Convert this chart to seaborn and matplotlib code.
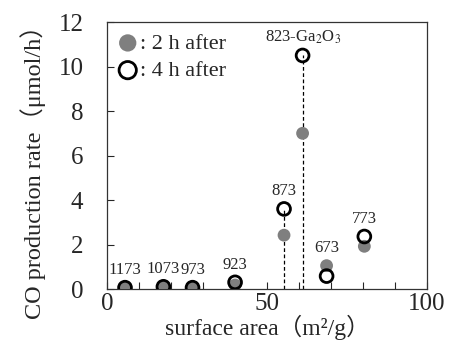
import matplotlib
matplotlib.use("Agg")
import matplotlib.pyplot as plt
import seaborn as sns
import pandas as pd
from matplotlib.ticker import MultipleLocator

# data
labels = ["1173", "1073", "973", "923", "873", "823-Ga$_2$O$_3$", "673", "773"]
surface_area = [5.6, 17.6, 26.7, 40.0, 55.3, 61.1, 68.6, 80.4]
rate_2h = [0.05, 0.08, 0.05, 0.18, 2.42, 7.0, 1.05, 1.92]
rate_4h = [0.06, 0.10, 0.06, 0.30, 3.60, 10.5, 0.58, 2.36]
dashed_idx = [4, 5]

sns.set_theme(style="ticks")
plt.rcParams['font.family'] = ['Liberation Serif', 'Noto Sans CJK JP', 'DejaVu Sans']
plt.rcParams['mathtext.fontset'] = 'stix'

df = pd.DataFrame({"area": surface_area, "r2": rate_2h, "r4": rate_4h, "label": labels})

fig = plt.figure(figsize=(4.5, 3.4), dpi=100)
ax = fig.add_axes([0.238, 0.150, 0.711, 0.785])

for i in dashed_idx:
    ax.vlines(df.area[i], 0, df.r4[i], colors='black', linestyles=(0, (3, 2)), linewidth=0.9, zorder=1)

sns.scatterplot(data=df, x="area", y="r2", ax=ax, s=85, color="#7f7f7f", edgecolor='none',
                label=": 2 h after", zorder=3)
sns.scatterplot(data=df, x="area", y="r4", ax=ax, s=85, facecolor='none', edgecolor='black',
                linewidth=2.0, label=": 4 h after", zorder=4)

for i in range(len(df)):
    top = max(df.r2[i], df.r4[i])
    ax.annotate(df.label[i], (df.area[i], top), xytext=(0, 7), textcoords='offset points',
                ha='center', va='bottom', fontsize=12)

ax.set_xlim(0, 100)
ax.set_ylim(0, 12)
ax.xaxis.set_major_locator(MultipleLocator(50))
ax.xaxis.set_minor_locator(MultipleLocator(10))
ax.yaxis.set_major_locator(MultipleLocator(2))
ax.tick_params(axis='both', which='both', direction='in', labelsize=18, length=5, width=0.8)
ax.tick_params(axis='y', pad=17)
ax.tick_params(axis='x', pad=3)
for sp in ax.spines.values():
    sp.set_linewidth(0.9)
    sp.set_color('#333333')

ax.set_xlabel("surface area（m²/g）", fontsize=17, labelpad=0)
ax.set_ylabel("CO production rate（μmol/h）", fontsize=17.5)
ax.yaxis.set_label_coords(-0.19, 0.46)

leg = ax.legend(loc='upper left', frameon=False, fontsize=16, handletextpad=0.05,
                borderaxespad=0.1, labelspacing=0.3, handlelength=1.0, markerscale=1.35,
                bbox_to_anchor=(-0.005, 1.0))
ax.grid(False)

fig.savefig("out.png", dpi=100)
